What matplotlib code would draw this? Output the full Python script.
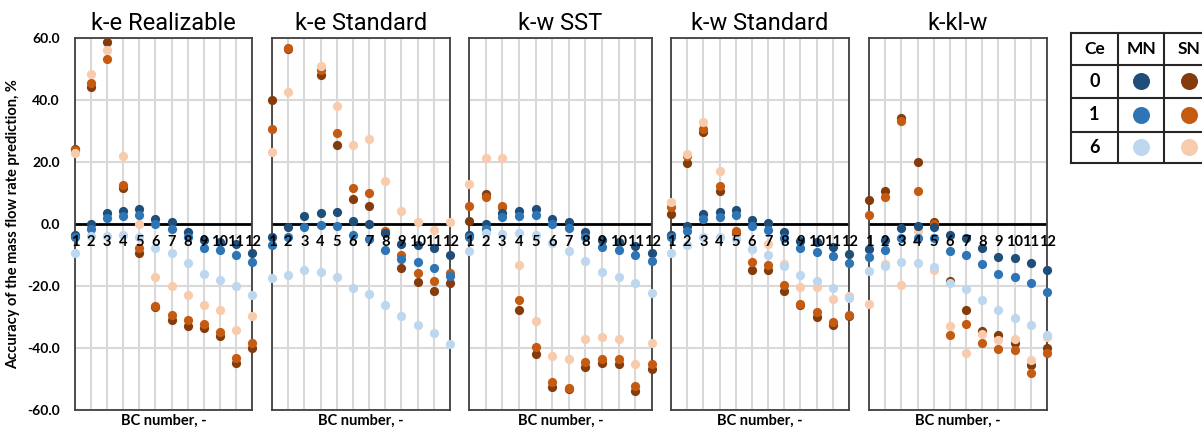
import numpy as np
import matplotlib
matplotlib.use("Agg")
import matplotlib.pyplot as plt

plt.rcParams['font.family'] = ['Lato', 'DejaVu Sans']

nan = np.nan
bc = list(range(1, 13))
bc_labels = [str(b) for b in bc]
models = ["k-e Realizable", "k-e Standard", "k-w SST", "k-w Standard", "k-kl-w"]
series_names = ["MN0", "MN1", "MN6", "SN0", "SN1", "SN6"]

# k-e Realizable
real_mn0 = [-3.5, 0.0, 3.4, 4.3, 4.7, 1.6, 0.5, -2.5, -5.2, -5.7, -6.5, -9.3]
real_mn1 = [-4.3, -1.7, 1.8, 2.7, 2.9, 0.0, -1.6, -4.3, -7.9, -8.4, -10.0, -12.2]
real_mn6 = [-9.2, -3.8, -3.9, -3.7, -4.3, -7.9, -9.5, -12.7, -16.2, -18.1, -19.9, -23.0]
real_sn0 = [24.3, 44.2, 58.7, 11.5, -9.5, -26.7, -31.1, -32.9, -33.7, -36.2, -44.8, -39.9]
real_sn1 = [23.9, 45.5, 53.2, 12.5, -7.9, -26.5, -29.2, -31.0, -32.3, -34.8, -43.2, -38.3]
real_sn6 = [23.0, 48.5, 56.0, 21.8, 0.0, -17.2, -19.9, -22.8, -26.0, -27.8, -34.3, -29.6]

# k-e Standard
kestd_mn0 = [-4.1, -1.1, 2.7, 3.7, 3.9, 1.0, 0.0, -3.0, -6.6, -6.8, -7.9, -10.0]
kestd_mn1 = [-6.8, -4.1, -0.9, -0.3, -0.5, -3.6, -4.8, -8.4, -11.4, -12.4, -14.2, -16.8]
kestd_mn6 = [-17.3, -16.6, -14.9, -15.5, -17.0, -20.5, -22.7, -26.0, -29.6, -32.7, -35.0, -38.7]
kestd_sn0 = [39.9, 56.5, nan, 48.2, 25.4, 8.2, 5.8, -2.5, -14.1, -18.8, -21.6, -19.0]
kestd_sn1 = [30.8, 56.8, nan, 49.8, 29.2, 11.7, 10.1, -2.2, -10.0, -15.7, -18.4, -15.7]
kestd_sn6 = [23.1, 42.5, nan, 50.9, 38.0, 25.6, 27.3, 13.9, 4.1, 0.5, -1.8, 0.5]

# k-w SST
sst_mn0 = [-3.6, 0.0, 3.4, 4.3, 4.7, 1.6, 0.5, -2.5, -5.2, -5.7, -7.1, -9.3]
sst_mn1 = [-4.3, -1.6, 2.2, 2.6, 2.9, 0.0, -1.4, -4.1, -7.5, -8.4, -10.0, -11.9]
sst_mn6 = [-8.6, -3.0, -3.3, -3.0, -3.6, -6.0, -8.6, -12.0, -15.4, -17.0, -19.0, -22.1]
sst_sn0 = [1.0, 9.6, 5.5, -27.8, -41.8, -52.6, -53.3, -46.1, -44.8, -45.0, -53.9, -46.7]
sst_sn1 = [5.9, 8.8, 5.9, -24.6, -39.7, -51.0, -52.9, -44.5, -43.4, -43.4, -52.3, -45.0]
sst_sn6 = [12.8, 21.2, 21.2, -13.3, -31.4, -42.6, -43.4, -37.2, -36.6, -37.2, -45.0, -38.3]

# k-w Standard
kwstd_mn0 = [-3.6, -0.6, 3.1, 4.0, 4.5, 1.3, 0.4, -2.7, -5.4, -5.7, -7.5, -9.7]
kwstd_mn1 = [-4.3, -2.2, 1.6, 2.4, 2.9, -0.5, -1.9, -4.6, -7.9, -8.9, -10.3, -12.7]
kwstd_mn6 = [-9.5, -6.8, -4.3, -4.3, -4.8, -8.2, -10.0, -13.5, -16.6, -18.4, -20.5, -23.8]
kwstd_sn0 = [3.3, 19.6, 29.8, 10.7, -3.0, -14.7, -14.7, -21.7, -26.0, -30.0, -32.7, -29.6]
kwstd_sn1 = [5.4, 22.0, 30.6, 12.3, -2.2, -12.2, -13.3, -19.7, -25.9, -28.3, -31.6, -29.4]
kwstd_sn6 = [7.0, 22.6, 32.9, 17.1, 3.1, -8.0, -6.3, -13.0, -20.3, -20.3, -24.2, -23.2]

# k-kl-w
kkl_mn0 = [-8.2, -5.0, -1.4, -0.5, -0.9, -3.6, -4.6, -7.9, -10.6, -11.1, -12.7, -14.7]
kkl_mn1 = [-10.8, -8.4, -4.6, -4.6, -4.6, -8.6, -10.0, -13.0, -16.0, -17.0, -19.0, -21.9]
kkl_mn6 = [-15.2, -13.5, -12.2, -12.7, -13.8, -18.9, -21.0, -24.6, -27.8, -30.3, -32.7, -35.9]
kkl_sn0 = [7.8, 10.7, 34.2, 19.9, 0.5, -18.4, -27.6, -34.6, -35.9, -38.3, -45.6, -39.9]
kkl_sn1 = [2.9, 8.8, 33.3, 10.6, 0.0, -35.9, -32.1, -38.3, -40.2, -40.7, -48.1, -41.5]
kkl_sn6 = [-25.9, -13.0, -19.7, -2.3, -14.7, -33.0, -41.5, -35.6, -37.5, -37.2, -43.8, -36.4]

panels = [
    [real_mn0, real_mn1, real_mn6, real_sn0, real_sn1, real_sn6],
    [kestd_mn0, kestd_mn1, kestd_mn6, kestd_sn0, kestd_sn1, kestd_sn6],
    [sst_mn0, sst_mn1, sst_mn6, sst_sn0, sst_sn1, sst_sn6],
    [kwstd_mn0, kwstd_mn1, kwstd_mn6, kwstd_sn0, kwstd_sn1, kwstd_sn6],
    [kkl_mn0, kkl_mn1, kkl_mn6, kkl_sn0, kkl_sn1, kkl_sn6],
]

colors = {"MN0": "#1f4e79", "MN1": "#2e75b6", "MN6": "#bdd7ee",
          "SN0": "#843c0c", "SN1": "#c55a11", "SN6": "#f8cbad"}
draw_order = ["SN0", "SN1", "SN6", "MN0", "MN1", "MN6"]

W, H = 1202, 434
fig = plt.figure(figsize=(W / 100, H / 100), dpi=100)

# panel pixel extents (left, right)
lefts = [75, 272, 469, 671, 869]
rights = [252, 450, 652, 849, 1047]
top, bottom = 38, 410

for i, (model, data) in enumerate(zip(models, panels)):
    ax = fig.add_axes([lefts[i] / W, 1 - bottom / H, (rights[i] - lefts[i]) / W, (bottom - top) / H])
    ax.set_xlim(1, 12)
    ax.set_ylim(-60, 60)
    ax.set_xticks(bc)
    ax.set_yticks(np.arange(-60, 61, 20))
    ax.grid(True, color='#d9d9d9', linewidth=1.5, zorder=0)
    ax.axhline(0, color='black', linewidth=2, zorder=2)
    for name in draw_order:
        vals = data[series_names.index(name)]
        ax.scatter(bc, vals, s=44, color=colors[name], zorder=3, clip_on=False, linewidths=0)
    for b, lab in zip(bc, bc_labels):
        ax.text(b, -3.6, lab, ha='center', va='top', fontsize=10.5, fontweight='bold', zorder=4)
    ax.tick_params(length=0, labelbottom=False)
    for sp in ax.spines.values():
        sp.set_color('#404040')
        sp.set_linewidth(1.3)
    ax.set_xlabel("BC number, -", fontsize=10.5, fontweight='bold', labelpad=3)
    ax.set_title(model, fontsize=17, family=['Roboto', 'DejaVu Sans'], pad=6)
    if i == 0:
        ax.set_yticklabels([f"{v:.1f}" for v in np.arange(-60, 61, 20)], fontsize=10, fontweight='bold')
        ax.tick_params(axis='y', pad=11)
        ax.set_ylabel("Accuracy of the mass flow rate prediction, %", fontsize=10.5,
                      fontweight='bold', labelpad=5)
    else:
        ax.tick_params(labelleft=False)

# legend table, drawn in pixel coordinates
lx = fig.add_axes([1060 / W, 1 - 175 / H, (W - 1060) / W, 150 / H])
lx.set_xlim(1060, W)
lx.set_ylim(175, 25)
lx.axis('off')
row_y = [33, 65, 98, 132, 163]
col_x = [1071, 1118, 1164, 1214]
for y in row_y:
    lx.plot([col_x[0], col_x[-1]], [y, y], color='#262626', linewidth=1.5, clip_on=True)
for x in col_x:
    lx.plot([x, x], [row_y[0], row_y[-1]], color='#262626', linewidth=1.5, clip_on=True)
headers = ["Ce", "MN", "SN"]
for j, h in enumerate(headers):
    lx.text((col_x[j] + col_x[j + 1]) / 2, (row_y[0] + row_y[1]) / 2, h,
            ha='center', va='center', fontsize=12.5, fontweight='bold')
ce_values = ["0", "1", "6"]
for k, ce in enumerate(ce_values):
    yc = (row_y[k + 1] + row_y[k + 2]) / 2
    lx.text((col_x[0] + col_x[1]) / 2, yc, ce, ha='center', va='center', fontsize=13, fontweight='bold')
    lx.scatter([(col_x[1] + col_x[2]) / 2], [yc], s=150, color=colors["MN" + ce], linewidths=0)
    lx.scatter([(col_x[2] + col_x[3]) / 2], [yc], s=150, color=colors["SN" + ce], linewidths=0)

fig.savefig("out.png", dpi=100)
